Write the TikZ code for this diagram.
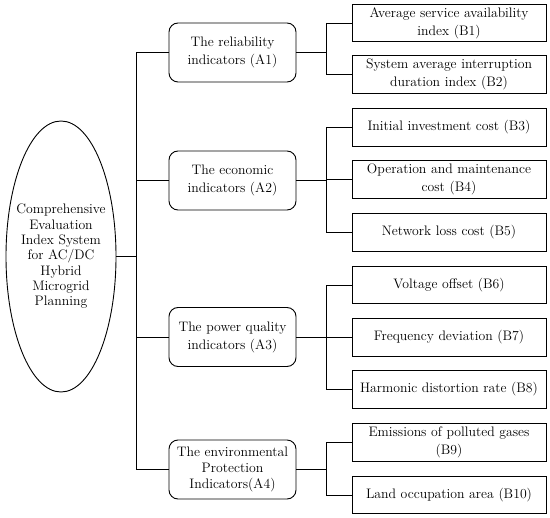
\documentclass[tikz,border=0pt]{standalone}
\usepackage{mathpazo}
\usetikzlibrary{shapes.geometric}

\tikzset{
  txt/.style={font=\fontsize{13.8}{18}\selectfont},
  abox/.style={txt, draw, rounded corners=9bp, minimum width=127bp, minimum height=59bp,
    text width=125bp, align=center, inner sep=1bp},
  bbox/.style={txt, draw, minimum width=194bp, minimum height=37.5bp,
    text width=192bp, align=center, inner sep=1bp},
}

\begin{document}
\begin{tikzpicture}[x=1bp, y=-1bp, line width=0.9bp]
    \useasboundingbox (0,0) rectangle (550,518);
    % root
    \node[draw, ellipse, minimum width=110bp, minimum height=271bp, inner xsep=-10bp,
      inner ysep=0pt, align=center, font=\fontsize{13.8}{15.4}\selectfont] (E) at (61,256.5)
      {Comprehensive\\Evaluation\\Index System\\for AC/DC\\Hybrid\\Microgrid\\Planning};
    % first level
    \node[abox] (A1) at (232.5,52.5) {The reliability\\indicators (A1)};
    \node[abox] (A2) at (232.5,180.5) {The economic\\indicators (A2)};
    \node[abox] (A3) at (232.5,337) {The power quality\\indicators (A3)};
    \node[abox, font=\fontsize{13.8}{16.5}\selectfont] (A4) at (232.5,469.5)
      {The environmental\\Protection\\Indicators(A4)};
    % second level
    \node[bbox] (B1) at (449,23) {Average service availability\\index (B1)};
    \node[bbox] (B2) at (449,74.5) {System average interruption\\duration index (B2)};
    \node[bbox] (B3) at (449,127.5) {Initial investment cost (B3)};
    \node[bbox] (B4) at (449,179.5) {Operation and maintenance\\cost (B4)};
    \node[bbox] (B5) at (449,232.5) {Network loss cost (B5)};
    \node[bbox] (B6) at (449,285) {Voltage offset (B6)};
    \node[bbox] (B7) at (449,337.5) {Frequency deviation (B7)};
    \node[bbox] (B8) at (449,389.5) {Harmonic distortion rate (B8)};
    \node[bbox] (B9) at (449,442.5) {Emissions of polluted gases\\(B9)};
    \node[bbox] (B10) at (449,495) {Land occupation area (B10)};
    % junctions
    \coordinate (tr) at (136,0);
    \coordinate (br) at (326,0);
    \draw (E.east) -- (E.east -| tr);
    \draw (A1.west -| tr) -- (A4.west -| tr);
    \foreach \a in {A1,A2,A3,A4}
        \draw (\a.west) -- (\a.west -| tr);
    \foreach \a/\b/\c in {A1/B1/B2, A2/B3/B5, A3/B6/B8, A4/B9/B10} {
        \draw (\a.east) -- (\a.east -| br);
        \draw (\b.west -| br) -- (\c.west -| br);
    }
    \foreach \b in {B1,B2,B3,B4,B5,B6,B7,B8,B9,B10}
        \draw (\b.west -| br) -- (\b.west);
\end{tikzpicture}
\end{document}
